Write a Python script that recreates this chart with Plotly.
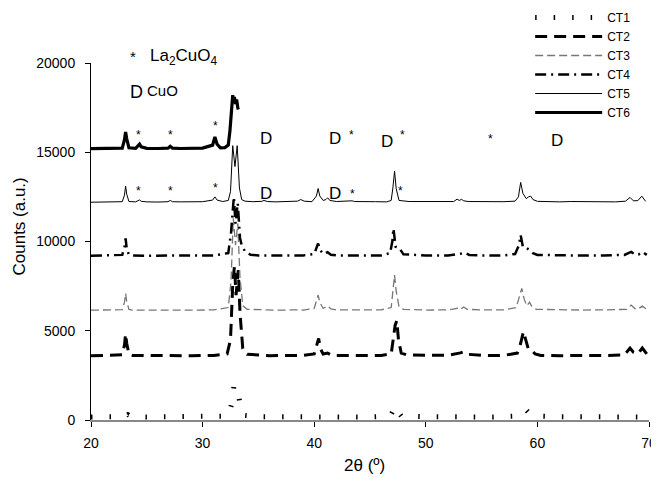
import plotly.graph_objects as go

# ---------------- data ----------------
series_names = ["CT1", "CT2", "CT3", "CT4", "CT5", "CT6"]

ct1_x = [20, 22, 23.0, 23.3, 23.6, 25, 27, 29, 31, 32.3, 32.6, 32.8, 33.0, 33.2, 33.4, 33.7,
         35, 37, 39, 41, 43, 45, 46.8, 47.1, 47.3, 47.5, 47.8, 50, 52, 54, 56,
         58.3, 58.7, 59.0, 59.3, 59.7, 62, 64, 66, 68, 69.8]
ct1_y = [170, 180, 190, 300, 190, 170, 180, 170, 180, 220, 900, 1850, 1400, 1500, 700, 260,
         180, 170, 180, 170, 180, 170, 220, 500, 780, 450, 220, 180, 170, 180, 170,
         220, 400, 560, 350, 220, 180, 170, 180, 170, 170]

ct2_x = [20, 21, 22, 22.8, 23.0, 23.1, 23.2, 23.4, 23.7, 25, 27, 29, 31,
         32.2, 32.5, 32.7, 32.85, 33.0, 33.2, 33.35, 33.6, 34.0, 35, 36, 37, 38, 39,
         40.0, 40.25, 40.4, 40.55, 40.8, 41.2, 41.5, 42, 44, 46,
         46.9, 47.15, 47.25, 47.4, 47.55, 47.8, 48.3, 50, 52, 53.1, 53.4, 53.8, 55, 57,
         58.2, 58.5, 58.75, 58.95, 59.2, 59.5, 59.8, 60.3, 62, 64, 66,
         67.8, 68.3, 68.6, 69.0, 69.4, 69.8]
ct2_y = [3600, 3620, 3600, 3650, 4200, 4820, 4300, 3680, 3620, 3600, 3610, 3600, 3620,
         3700, 4500, 7600, 8600, 7000, 8400, 6000, 4000, 3680, 3620, 3600, 3620, 3610, 3620,
         3700, 4200, 4570, 4000, 3700, 3750, 3650, 3620, 3600, 3620,
         3700, 4700, 5300, 5560, 4500, 3750, 3650, 3620, 3630, 3760, 3820, 3680, 3620, 3620,
         3750, 4300, 4950, 4500, 3950, 3900, 3700, 3620, 3600, 3620, 3610,
         3650, 4030, 3800, 3700, 4030, 3700]

ct3_x = [20, 21, 22, 22.8, 23.0, 23.1, 23.2, 23.4, 23.7, 25, 27, 29, 31,
         32.3, 32.55, 32.75, 32.95, 33.15, 33.35, 33.6, 34.0, 35, 36, 37, 38, 39,
         40.0, 40.2, 40.35, 40.5, 40.8, 41.2, 41.5, 42, 44, 46,
         46.9, 47.05, 47.2, 47.35, 47.6, 48, 50, 52, 52.8, 53.0, 53.2, 53.4, 53.7, 55, 57,
         58.1, 58.4, 58.6, 58.8, 59.05, 59.3, 59.5, 59.9, 62, 64, 66,
         68.0, 68.4, 68.8, 69.1, 69.4, 69.8]
ct3_y = [6150, 6160, 6150, 6180, 6600, 7090, 6650, 6200, 6160, 6150, 6160, 6150, 6170,
         6300, 7800, 11300, 9800, 11000, 8000, 6400, 6200, 6170, 6160, 6150, 6170, 6160,
         6250, 6650, 7000, 6600, 6250, 6400, 6220, 6170, 6160, 6170,
         6300, 7300, 8120, 7200, 6350, 6200, 6160, 6170, 6250, 6330, 6250, 6330, 6200, 6170, 6170,
         6300, 6900, 7375, 6800, 6400, 6600, 6350, 6200, 6170, 6160, 6170,
         6200, 6440, 6200, 6250, 6380, 6200]

ct4_x = [20, 21, 22, 22.8, 23.0, 23.1, 23.2, 23.4, 23.7, 25, 27, 29, 31,
         32.3, 32.55, 32.8, 32.95, 33.15, 33.35, 33.5, 33.8, 34.3, 35, 36, 37, 38, 39,
         40.0, 40.2, 40.35, 40.5, 40.8, 41.2, 41.5, 42, 44, 46,
         46.8, 47.0, 47.1, 47.3, 47.6, 48.0, 50, 52, 53.2, 53.5, 53.9, 55, 57,
         58.0, 58.35, 58.5, 58.7, 59.0, 59.3, 59.6, 60.0, 62, 64, 66,
         67.8, 68.4, 68.8, 69.1, 69.4, 69.8]
ct4_y = [9200, 9220, 9200, 9250, 9700, 10170, 9600, 9260, 9220, 9200, 9220, 9210, 9220,
         9350, 10500, 12500, 11000, 12150, 10200, 9800, 9450, 9260, 9220, 9210, 9220, 9200, 9220,
         9300, 9650, 9890, 9550, 9300, 9400, 9260, 9220, 9210, 9220,
         9350, 10000, 10730, 9700, 9650, 9280, 9220, 9210, 9330, 9370, 9250, 9220, 9220,
         9300, 9800, 10360, 9700, 9650, 9520, 9350, 9250, 9220, 9210, 9220,
         9250, 9420, 9250, 9280, 9420, 9250]

ct5_x = [20, 21, 22, 22.8, 23.0, 23.1, 23.2, 23.4, 24.0, 24.2, 24.35, 24.5, 25, 26,
         26.9, 27.1, 27.3, 28, 29, 30, 30.9, 31.1, 31.3, 31.8,
         32.3, 32.5, 32.7, 32.9, 33.1, 33.3, 33.5, 33.8, 34.5, 35.3, 35.5, 35.8,
         36.5, 37.5, 38.5, 38.8, 39.1, 39.8, 40.2, 40.35, 40.5, 40.8, 41.05, 41.2, 41.4, 42,
         43.2, 43.4, 43.6, 44.5, 45.5, 46.5, 46.9, 47.05, 47.2, 47.35, 47.6,
         48.5, 49.5, 50.5, 51.5, 52.5, 52.8, 53.0, 53.2, 53.4, 53.8, 55, 56, 57,
         58.0, 58.3, 58.5, 58.7, 59.0, 59.2, 59.4, 59.6, 60, 61, 62, 63, 64, 65, 66, 67,
         67.9, 68.3, 68.6, 69.0, 69.35, 69.7]
ct5_y = [12200, 12220, 12210, 12230, 12600, 13100, 12650, 12240, 12220, 12260, 12330, 12250, 12220, 12210,
         12230, 12300, 12230, 12220, 12210, 12230, 12320, 12500, 12320, 12240,
         12300, 12800, 15370, 14200, 15370, 13000, 12350, 12260, 12230, 12250, 12300, 12240,
         12220, 12230, 12260, 12350, 12260, 12230, 12550, 12970, 12550, 12300, 12350, 12450, 12300, 12240,
         12250, 12280, 12240, 12220, 12230, 12220, 12300, 13000, 13940, 12950, 12300,
         12240, 12230, 12220, 12230, 12240, 12370, 12300, 12360, 12280, 12240, 12230, 12220, 12230,
         12260, 12500, 13310, 12700, 12400, 12500, 12540, 12350, 12250, 12230, 12220, 12240, 12230, 12220, 12230, 12220,
         12260, 12470, 12280, 12290, 12540, 12250]

ct6_x = [20, 21, 22, 22.8, 23.0, 23.1, 23.2, 23.4, 24.0, 24.2, 24.35, 24.5, 25, 26,
         26.9, 27.1, 27.3, 28, 29, 30, 30.9, 31.1, 31.3, 31.6,
         32.0, 32.3, 32.45, 32.6, 32.7, 32.75, 32.85, 32.95, 33.05, 33.15, 33.2]
ct6_y = [15200, 15220, 15200, 15230, 15700, 16130, 15750, 15250, 15220, 15330, 15450, 15300, 15220, 15210,
         15230, 15330, 15230, 15210, 15220, 15230, 15400, 15860, 15450, 15250,
         15260, 15400, 16200, 17300, 18200, 17900, 18100, 17700, 17950, 17500, 17400]

# phase markers
star_x = [24.3, 27.1, 31.13, 43.37, 47.87, 55.84, 24.3, 27.1, 31.13, 43.4, 47.75]
star_y = [15980, 15980, 16485, 15980, 15980, 15720, 12845, 12845, 13010, 12680, 12845]
d_x = [35.69, 41.87, 46.5, 61.8, 35.69, 41.87]
d_y = [15790, 15790, 15585, 15680, 12710, 12710]

x_ticks = [20, 30, 40, 50, 60, 70]
y_ticks = [0, 5000, 10000, 15000, 20000]
y_tick_labels = ["0", "5000", "10000", "15000", "20000"]

# ---------------- styling ----------------
xs = [ct1_x, ct2_x, ct3_x, ct4_x, ct5_x, ct6_x]
ys = [ct1_y, ct2_y, ct3_y, ct4_y, ct5_y, ct6_y]
for a, b in zip(xs, ys):
    assert len(a) == len(b), (len(a), len(b))

styles = [
    dict(color="black", width=5, dash="1.5px,17px"),
    dict(color="black", width=3, dash="12px,7px"),
    dict(color="#777777", width=1.3, dash="8px,4px"),
    dict(color="black", width=2.5, dash="11px,5px,2px,5px"),
    dict(color="black", width=1),
    dict(color="black", width=3.2),
]

FONT = "Liberation Sans, Arial, sans-serif"

fig = go.Figure()
for name, x, y, st in zip(series_names, xs, ys, styles):
    fig.add_trace(go.Scatter(x=x, y=y, name=name, mode="lines", line=st))

ann = []
for x, y in zip(star_x, star_y):
    ann.append(dict(x=x, y=y, xref="x", yref="y", text="*", showarrow=False,
                    font=dict(size=12, color="black", family=FONT)))
for x, y in zip(d_x, d_y):
    ann.append(dict(x=x, y=y, xref="x", yref="y", text="D", showarrow=False,
                    font=dict(size=17, color="black", family=FONT)))
# key text top-left (paper coords)
ann.append(dict(x=23.79, y=1.048, xref="x", yref="paper", text="*", showarrow=False,
                font=dict(size=15, color="black", family=FONT)))
ann.append(dict(x=25.1, y=1.053, xref="x", yref="paper", text="La<sub>2</sub>CuO<sub>4</sub>",
                showarrow=False, xanchor="left", font=dict(size=17, color="black", family=FONT)))
ann.append(dict(x=24.06, y=0.952, xref="x", yref="paper", text="D", showarrow=False,
                font=dict(size=18, color="black", family=FONT)))
ann.append(dict(x=24.85, y=0.952, xref="x", yref="paper", text="CuO", showarrow=False,
                xanchor="left", font=dict(size=15, color="black", family=FONT)))
# axis titles
ann.append(dict(x=0.491, y=-0.159, xref="paper", yref="paper", text="2θ (º)", showarrow=False,
                font=dict(size=17, color="black", family=FONT)))
ann.append(dict(x=-0.149, y=0.543, xref="paper", yref="paper", text="Counts (a.u.)",
                showarrow=False, textangle=-90, font=dict(size=17, color="black", family=FONT)))

# the page body keeps an 8px margin, so the figure is 8px smaller than the window
fig.update_layout(
    width=651, height=469,
    margin=dict(l=83, r=10, t=55, b=57, autoexpand=False),
    paper_bgcolor="white", plot_bgcolor="white",
    font=dict(family=FONT, size=14, color="black"),
    showlegend=True,
    legend=dict(x=0.787, y=1.168, xanchor="left", yanchor="top",
                font=dict(size=12, family=FONT, color="black"),
                itemwidth=67, bgcolor="rgba(0,0,0,0)", tracegroupgap=0),
    annotations=ann,
    xaxis=dict(range=[20, 70], tickvals=x_ticks, ticks="outside", ticklen=5,
               tickcolor="black", showline=True, linecolor="#888888", linewidth=2,
               showgrid=False, zeroline=False, tickfont=dict(size=14),
               ticklabelstandoff=4, layer="below traces"),
    yaxis=dict(range=[0, 20000], tickvals=y_ticks, ticktext=y_tick_labels,
               ticks="outside", ticklen=5,
               tickcolor="black", showline=True, linecolor="black", linewidth=1,
               showgrid=False, zeroline=False, tickfont=dict(size=14),
               ticklabelstandoff=7),
)

fig.write_html("out.html")
